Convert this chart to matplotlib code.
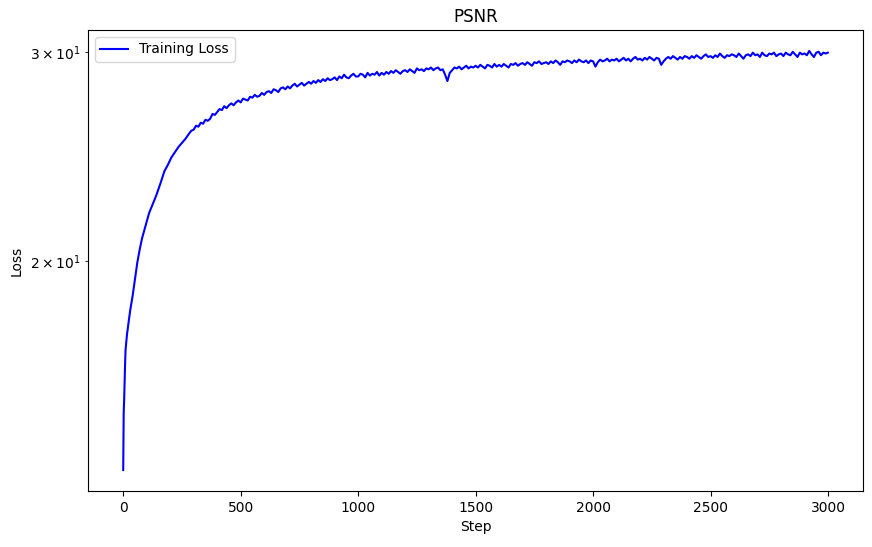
#!/usr/bin/env python3
"""
PSNR training curve (log y axis), redrawn from a reference picture.
"""
import matplotlib

matplotlib.use("Agg")
import matplotlib.pyplot as plt

# ---- Data (steps, PSNR values)
early_steps = [0, 2, 4, 6, 8, 10, 13, 16, 20, 25, 30, 35, 40, 45, 50, 55, 60,
               70, 80, 90, 100, 110, 120, 130, 140, 150, 160, 175, 190, 205,
               220, 235, 250, 265, 280, 290]
early_psnr = [13.35, 14.9, 15.3, 15.9, 16.4, 16.85, 17.1, 17.35, 17.6, 17.9,
              18.2, 18.45, 18.7, 19.0, 19.3, 19.6, 19.95, 20.45, 20.9, 21.25,
              21.6, 21.95, 22.2, 22.45, 22.7, 23.0, 23.3, 23.8, 24.1, 24.45,
              24.7, 24.95, 25.15, 25.35, 25.6, 25.75]

# every 10 steps from 300 to 2990, then the last step
late_steps = list(range(300, 2991, 10)) + [2999]
late_psnr = [
    25.8, 26.0, 25.95, 26.15, 26.1, 26.3, 26.25, 26.35, 26.6, 26.55,
    26.7, 26.85, 26.8, 27.0, 26.9, 27.05, 27.15, 27.05, 27.2, 27.3,
    27.2, 27.4, 27.35, 27.3, 27.5, 27.45, 27.6, 27.5, 27.55, 27.7,
    27.6, 27.75, 27.8, 27.7, 27.9, 27.85, 27.75, 27.95, 28.0, 27.9,
    28.05, 27.95, 28.1, 28.2, 28.05, 28.15, 28.25, 28.1, 28.2, 28.3,
    28.2, 28.35, 28.25, 28.4, 28.3, 28.45, 28.35, 28.5, 28.4, 28.45,
    28.55, 28.4, 28.6, 28.5, 28.7, 28.55, 28.5, 28.65, 28.75, 28.6,
    28.6, 28.75, 28.7, 28.55, 28.8, 28.65, 28.75, 28.7, 28.85, 28.65,
    28.8, 28.7, 28.85, 28.75, 28.9, 28.8, 28.95, 28.85, 28.75, 28.9,
    28.95, 28.85, 29.0, 28.9, 28.8, 29.05, 28.95, 29.0, 28.9, 29.05,
    29.0, 29.1, 28.95, 29.05, 29.1, 28.95, 29.0, 28.7, 28.35, 28.8,
    28.95, 29.1, 29.05, 29.15, 29.0, 29.1, 29.2, 29.05, 29.15, 29.1,
    29.2, 29.1, 29.25, 29.15, 29.05, 29.25, 29.2, 29.1, 29.3, 29.15,
    29.25, 29.15, 29.3, 29.2, 29.1, 29.3, 29.25, 29.35, 29.2, 29.3,
    29.35, 29.25, 29.4, 29.3, 29.2, 29.4, 29.35, 29.45, 29.3, 29.35,
    29.4, 29.3, 29.45, 29.35, 29.5, 29.4, 29.25, 29.45, 29.4, 29.5,
    29.45, 29.35, 29.5, 29.4, 29.55, 29.45, 29.4, 29.5, 29.35, 29.5,
    29.45, 29.15, 29.4, 29.55, 29.45, 29.5, 29.6, 29.45, 29.55, 29.5,
    29.6, 29.45, 29.55, 29.65, 29.5, 29.6, 29.45, 29.6, 29.7, 29.55,
    29.6, 29.5, 29.65, 29.55, 29.7, 29.6, 29.5, 29.65, 29.6, 29.25,
    29.45, 29.6, 29.7, 29.6, 29.75, 29.65, 29.55, 29.7, 29.6, 29.75,
    29.7, 29.6, 29.75, 29.65, 29.8, 29.7, 29.6, 29.75, 29.85, 29.7,
    29.75, 29.65, 29.8, 29.7, 29.9, 29.75, 29.65, 29.8, 29.75, 29.85,
    29.8, 29.7, 29.9, 29.75, 29.6, 29.8, 29.85, 29.75, 29.95, 29.8,
    29.85, 29.7, 29.95, 29.8, 29.75, 29.9, 29.85, 29.95, 29.75, 29.85,
    29.9, 29.75, 29.95, 29.85, 29.8, 30.0, 29.85, 29.7, 29.95, 29.85,
    29.9, 29.8, 30.05, 29.85, 29.7, 29.95, 30.0, 29.8, 29.95, 29.9,
    29.95,
]

steps = early_steps + late_steps
psnr = early_psnr + late_psnr


def main():
    fig = plt.figure(figsize=(8.72, 5.47), dpi=100)
    ax = fig.add_axes([0.1009, 0.1024, 0.8888, 0.8428])
    ax.plot(steps, psnr, color="blue", linewidth=1.5, label="Training Loss")
    ax.set_yscale("log")
    ax.set_title("PSNR")
    ax.set_xlabel("Step")
    ax.set_ylabel("Loss")
    ax.legend(loc="upper left")
    fig.savefig("out.png", dpi=100)
    plt.close(fig)


if __name__ == "__main__":
    main()
